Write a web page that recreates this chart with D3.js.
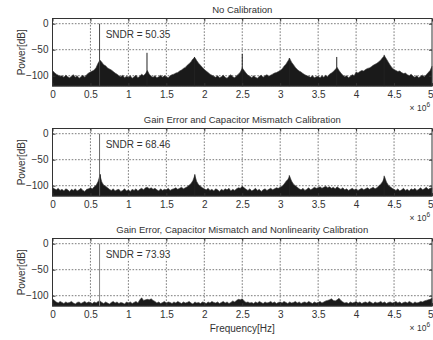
<!DOCTYPE html>
<html>
<head>
<meta charset="utf-8">
<script src="https://cdn.jsdelivr.net/npm/d3@7"></script>
<style>
  body { margin: 0; background: #fff; }
  svg { display: block; font-family: "Liberation Sans", Arial, sans-serif; }
</style>
</head>
<body>
<div id="chart"></div>
<script>
// ---- data ----
const titles = [
  'No Calibration',
  'Gain Error and Capacitor Mismatch Calibration',
  'Gain Error, Capacitor Mismatch and Nonlinearity Calibration',
];
const sndrLabels = ['SNDR = 50.35', 'SNDR = 68.46', 'SNDR = 73.93'];
const xTicks = [0, 0.5, 1, 1.5, 2, 2.5, 3, 3.5, 4, 4.5, 5];
const yTicks = [-100, -50, 0];
const binStep = 0.025; // MHz between floor samples

// top of the noise floor (dB), one value per bin from 0 to 5 MHz
const floorNoCal = [
  -90, -94, -97, -99, -101, -100, -103, -99, -102, -104, -101, -98, -103, -100, -105, -102, -99, -103, -98, -95,
  -93, -91, -89, -84, -76, -70, -74, -79, -81, -85, -87, -89, -92, -95, -97, -100, -102, -99, -104, -101,
  -103, -100, -105, -102, -99, -104, -101, -97, -100, -96, -90, -97, -101, -103, -100, -104, -102, -99, -103, -100,
  -102, -104, -100, -98, -97, -95, -94, -91, -89, -86, -84, -80, -77, -73, -68, -65, -71, -76, -80, -84,
  -88, -91, -94, -97, -99, -101, -103, -100, -104, -102, -99, -103, -105, -101, -98, -102, -104, -100, -97, -93,
  -85, -90, -95, -99, -101, -104, -100, -103, -105, -101, -99, -103, -100, -98, -101, -99, -97, -95, -94, -92,
  -90, -87, -82, -78, -72, -67, -74, -79, -84, -88, -91, -93, -96, -98, -100, -101, -103, -100, -104, -102,
  -101, -104, -100, -103, -99, -102, -97, -95, -92, -88, -84, -90, -95, -99, -102, -100, -104, -101, -98, -100,
  -93, -95, -92, -90, -91, -88, -86, -85, -83, -80, -78, -76, -73, -70, -65, -62, -68, -74, -80, -85,
  -88, -90, -92, -91, -94, -96, -95, -98, -100, -97, -101, -103, -100, -104, -101, -99, -102, -98, -94, -90,
  -82,
];
const floorGainCap = [
  -103, -106, -108, -105, -109, -107, -110, -106, -108, -111, -107, -109, -106, -110, -108, -105, -109, -111, -107, -106,
  -104, -106, -102, -99, -92, -80, -93, -99, -101, -104, -107, -109, -106, -110, -108, -107, -111, -109, -106, -110,
  -108, -111, -107, -109, -106, -110, -107, -105, -108, -104, -103, -106, -104, -107, -105, -108, -110, -106, -109, -107,
  -108, -105, -109, -107, -106, -104, -107, -105, -103, -106, -104, -102, -99, -96, -90, -80, -92, -98, -101, -104,
  -106, -108, -105, -109, -107, -110, -106, -108, -111, -107, -109, -106, -108, -105, -110, -107, -109, -106, -104, -105,
  -101, -104, -107, -109, -106, -110, -108, -105, -109, -107, -111, -108, -106, -109, -107, -105, -108, -106, -104, -105,
  -103, -101, -97, -92, -88, -82, -91, -97, -100, -103, -106, -108, -105, -109, -107, -104, -108, -106, -103, -105,
  -104, -102, -105, -103, -101, -104, -102, -105, -103, -106, -102, -105, -107, -104, -108, -106, -109, -107, -105, -108,
  -106, -109, -107, -105, -108, -106, -104, -107, -105, -103, -106, -104, -100, -97, -92, -83, -93, -99, -102, -105,
  -107, -109, -106, -110, -108, -105, -109, -107, -110, -106, -108, -105, -109, -107, -104, -108, -106, -103, -107, -105,
  -104,
];
const floorFull = [
  -106, -109, -112, -114, -111, -113, -115, -112, -114, -113, -111, -114, -116, -113, -112, -115, -113, -111, -114, -112,
  -113, -115, -112, -114, -111, -110, -113, -115, -112, -114, -116, -113, -111, -114, -112, -115, -113, -114, -116, -112,
  -114, -112, -115, -113, -111, -114, -108, -104, -109, -108, -107, -108, -106, -109, -111, -114, -112, -115, -113, -111,
  -114, -112, -113, -115, -112, -114, -111, -113, -115, -112, -114, -113, -111, -114, -116, -112, -114, -113, -115, -112,
  -113, -115, -112, -114, -111, -113, -114, -112, -115, -113, -111, -114, -112, -115, -113, -110, -112, -109, -107, -108,
  -106, -110, -113, -112, -114, -113, -115, -112, -114, -111, -113, -115, -112, -114, -113, -111, -114, -112, -115, -113,
  -112, -114, -111, -113, -115, -112, -114, -113, -111, -114, -112, -115, -113, -112, -114, -111, -113, -115, -112, -114,
  -113, -111, -114, -112, -110, -109, -108, -106, -109, -110, -108, -105, -109, -112, -114, -113, -115, -112, -114, -113,
  -111, -114, -112, -115, -113, -112, -114, -111, -113, -115, -112, -114, -113, -111, -114, -112, -115, -113, -112, -114,
  -113, -111, -114, -112, -115, -113, -112, -114, -111, -113, -115, -112, -114, -113, -111, -112, -110, -109, -108, -107,
  -105,
];

// narrow tones [frequency MHz, level dB]
const tonesNoCal = [[0.62, 0], [1.245, -56], [1.87, -64], [2.5, -58], [3.12, -66], [3.745, -64], [4.37, -60]];
const tonesGainCap = [[0.62, 0], [0.63, -78], [1.875, -78], [3.12, -80], [4.37, -81]];
const tonesFull = [[0.62, 0]];

const panels = [
  { title: titles[0], sndr: sndrLabels[0], floor: floorNoCal, tones: tonesNoCal, toneColor: '#444', top: 18.5 },
  { title: titles[1], sndr: sndrLabels[1], floor: floorGainCap, tones: tonesGainCap, toneColor: '#666', top: 128.5 },
  { title: titles[2], sndr: sndrLabels[2], floor: floorFull, tones: tonesFull, toneColor: '#888', top: 238.5 },
];

const config = {
  containerWidth: 433,
  containerHeight: 340,
  left: 52.5,
  right: 432,
  panelHeight: 67.6,
};
const width = config.right - config.left;
const height = config.panelHeight;

const svg = d3.select('#chart').append('svg')
  .attr('width', config.containerWidth)
  .attr('height', config.containerHeight);

function renderPanel(p, idx) {
  const g = svg.append('g')
    .attr('transform', `translate(${config.left},${p.top})`);

  const xScale = d3.scaleLinear().domain([0, 5]).range([0, width]);
  const yScale = d3.scaleLinear().domain([-120, 10]).range([height, 0]);

  // dotted grid under the data
  g.selectAll('.vgrid').data(xTicks.slice(1, -1)).join('line')
    .attr('class', 'vgrid')
    .attr('x1', (d) => xScale(d)).attr('x2', (d) => xScale(d))
    .attr('y1', 0).attr('y2', height)
    .attr('stroke', '#555').attr('stroke-width', 0.8)
    .attr('stroke-dasharray', '1.6,1.6');
  g.selectAll('.hgrid').data(yTicks).join('line')
    .attr('class', 'hgrid')
    .attr('x1', 0).attr('x2', width)
    .attr('y1', (d) => yScale(d)).attr('y2', (d) => yScale(d))
    .attr('stroke', '#555').attr('stroke-width', 0.8)
    .attr('stroke-dasharray', '1.6,1.6');

  // noise floor
  const area = d3.area()
    .x((d, i) => xScale(i * binStep))
    .y0(height)
    .y1((d) => yScale(d));
  g.append('path')
    .datum(p.floor)
    .attr('d', area)
    .attr('fill', '#1a1a1a')
    .attr('stroke', '#3a3a3a')
    .attr('stroke-width', 0.6);

  // tones
  g.selectAll('.tone').data(p.tones).join('line')
    .attr('class', 'tone')
    .attr('x1', (d) => xScale(d[0])).attr('x2', (d) => xScale(d[0]))
    .attr('y1', height).attr('y2', (d) => yScale(d[1]))
    .attr('stroke', (d, i) => (i === 0 ? p.toneColor : '#222'))
    .attr('stroke-width', 1);

  // axes, ticks pointing in
  const xAxis = d3.axisBottom(xScale).tickValues(xTicks)
    .tickSizeInner(-3).tickSizeOuter(0).tickPadding(5)
    .tickFormat(d3.format(''));
  const yAxis = d3.axisLeft(yScale).tickValues(yTicks)
    .tickSizeInner(-3).tickSizeOuter(0).tickPadding(4);

  const xAxisG = g.append('g').attr('transform', `translate(0,${height})`).call(xAxis);
  const yAxisG = g.append('g').call(yAxis);
  g.append('g').call(d3.axisTop(xScale).tickValues(xTicks).tickSizeInner(-3).tickSizeOuter(0).tickFormat(''));
  g.append('g').attr('transform', `translate(${width},0)`)
    .call(d3.axisRight(yScale).tickValues(yTicks).tickSizeInner(-3).tickSizeOuter(0).tickFormat(''));

  g.selectAll('.domain').attr('stroke', 'none');
  g.selectAll('.tick line').attr('stroke', '#333');
  [xAxisG, yAxisG].forEach((a) => a.selectAll('text')
    .attr('font-size', 10).attr('fill', '#333')
    .attr('font-family', '"Liberation Sans", Arial, sans-serif'));
  // last x label sits at the window edge
  xAxisG.selectAll('.tick text').filter((d) => d === 5)
    .attr('text-anchor', 'end').attr('dx', 1);

  // box
  g.append('rect')
    .attr('width', width).attr('height', height)
    .attr('fill', 'none').attr('stroke', '#333').attr('stroke-width', 1);

  // SNDR label with white background
  const labelBg = g.append('rect').attr('fill', '#fff');
  const label = g.append('text')
    .attr('x', xScale(0.7)).attr('y', 19)
    .attr('font-size', 10).attr('fill', '#333')
    .text(p.sndr);
  const bb = label.node().getBBox();
  labelBg
    .attr('x', bb.x - 1).attr('y', bb.y)
    .attr('width', bb.width + 2).attr('height', bb.height);

  // title
  svg.append('text')
    .attr('x', config.left + width / 2).attr('y', p.top - 6)
    .attr('text-anchor', 'middle')
    .attr('font-size', 9.5).attr('fill', '#333')
    .text(p.title);

  // y label
  svg.append('text')
    .attr('transform', `translate(25,${p.top + height / 2}) rotate(-90)`)
    .attr('text-anchor', 'middle')
    .attr('font-size', 10).attr('fill', '#333')
    .text('Power[dB]');

  // x10^6 exponent, below the last tick label
  const expo = svg.append('text')
    .attr('x', 430).attr('y', p.top + height + 25)
    .attr('text-anchor', 'end')
    .attr('font-size', 8.5).attr('fill', '#333');
  expo.append('tspan').text('\u00d7 10');
  expo.append('tspan').attr('dy', -4).attr('font-size', 6.5).text('6');

  if (idx === 2) {
    svg.append('text')
      .attr('x', config.left + width / 2).attr('y', p.top + height + 26)
      .attr('text-anchor', 'middle')
      .attr('font-size', 10).attr('fill', '#333')
      .text('Frequency[Hz]');
  }
}

panels.forEach(renderPanel);
</script>
</body>
</html>
